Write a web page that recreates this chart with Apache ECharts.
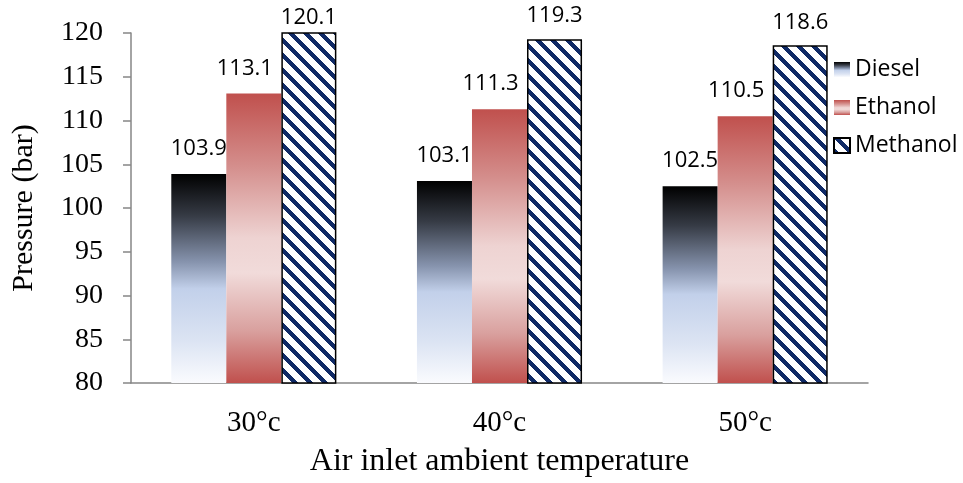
<!DOCTYPE html>
<html>
<head>
<meta charset="utf-8">
<script src="https://cdn.jsdelivr.net/npm/echarts@6/dist/echarts.min.js"></script>
<style>
    html, body { margin: 0; padding: 0; background: #fff; }
    #main { width: 963px; height: 483px; }
</style>
</head>
<body>
<div id="main"></div>
<script>
// data
var temps = ['30°c', '40°c', '50°c'];
var fuels = ['Diesel', 'Ethanol', 'Methanol'];
var diesel = [103.9, 103.1, 102.5];
var ethanol = [113.1, 111.3, 110.5];
var methanol = [120.1, 119.3, 118.6];

pressure_chart();

// diagonal "\" stripes for the methanol bars
function stripe_tile(){
    var s = 15, w = 6;
    var cv = document.createElement('canvas');
    cv.width = s; cv.height = s;
    var ctx = cv.getContext('2d');
    var img = ctx.createImageData(s, s);
    for (var y = 0; y < s; y++) {
        for (var x = 0; x < s; x++) {
            var d = ((x - y) % s + s) % s;
            var i = (y * s + x) * 4;
            var on = d < w;
            img.data[i] = on ? 16 : 255;
            img.data[i + 1] = on ? 42 : 255;
            img.data[i + 2] = on ? 102 : 255;
            img.data[i + 3] = 255;
        }
    }
    ctx.putImageData(img, 0, 0);
    return cv;
}

function pressure_chart(){
    var myChart = echarts.init(document.getElementById('main'));
    var serif = 'Liberation Serif';
    var sans = 'Open Sans';

    var dieselFill = new echarts.graphic.LinearGradient(0, 0, 0, 1, [
        {offset: 0, color: '#000000'},
        {offset: 0.2, color: '#363b45'},
        {offset: 0.42, color: '#8693ad'},
        {offset: 0.55, color: '#c2d0ea'},
        {offset: 0.8, color: '#dce4f3'},
        {offset: 1, color: '#fafbfe'}
    ]);
    var ethanolFill = new echarts.graphic.LinearGradient(0, 0, 0, 1, [
        {offset: 0, color: '#c0504d'},
        {offset: 0.25, color: '#d48e8c'},
        {offset: 0.5, color: '#eed3d2'},
        {offset: 0.62, color: '#f1dbda'},
        {offset: 0.82, color: '#d9a09e'},
        {offset: 1, color: '#c0504d'}
    ]);

    var lbl = {
        show: true,
        position: 'top',
        distance: 14,
        color: '#000',
        fontFamily: sans,
        fontSize: 22,
        formatter: function (p) { return p.value.toFixed(1); }
    };

    // the tallest label sits lower, pressed against the top edge
    var methanolData = methanol.map(function (v) {
        return v >= 120 ? {value: v, label: {distance: 4}} : v;
    });

    option = {
        animation: false,
        backgroundColor: '#fff',
        grid: {left: 131, right: 95, top: 33, bottom: 99},
        legend: {
            orient: 'vertical',
            left: 828,
            top: 53,
            icon: 'rect',
            itemWidth: 16,
            itemHeight: 15,
            itemGap: 15,
            data: fuels,
            textStyle: {fontFamily: sans, fontSize: 23, color: '#000'}
        },
        xAxis: {
            type: 'category',
            data: temps,
            name: 'Air inlet ambient temperature',
            nameLocation: 'middle',
            nameGap: 63,
            nameTextStyle: {fontFamily: serif, fontSize: 32, color: '#000'},
            axisLine: {lineStyle: {color: '#868686', width: 1.5}},
            axisTick: {length: 8, lineStyle: {color: '#868686', width: 1.5}},
            axisLabel: {margin: 26, fontFamily: serif, fontSize: 29, color: '#000'}
        },
        yAxis: {
            type: 'value',
            min: 80,
            max: 120,
            interval: 5,
            name: 'Pressure (bar)',
            nameLocation: 'middle',
            nameGap: 92,
            nameTextStyle: {fontFamily: serif, fontSize: 30, color: '#000'},
            axisLine: {show: true, lineStyle: {color: '#868686', width: 1.5}},
            axisTick: {show: true, length: 8, lineStyle: {color: '#868686', width: 1.5}},
            axisLabel: {margin: 28, fontFamily: serif, fontSize: 28, color: '#000'},
            splitLine: {show: false}
        },
        series: [
            {
                name: 'Diesel',
                type: 'bar',
                data: diesel,
                barWidth: '22.4%',
                barGap: '0%',
                itemStyle: {color: dieselFill},
                label: lbl
            },
            {
                name: 'Ethanol',
                type: 'bar',
                data: ethanol,
                barWidth: '22.4%',
                barGap: '0%',
                itemStyle: {color: ethanolFill},
                label: Object.assign({}, lbl, {offset: [-9, 0]})
            },
            {
                name: 'Methanol',
                type: 'bar',
                data: methanolData,
                barWidth: '22.4%',
                barGap: '0%',
                itemStyle: {
                    color: {image: stripe_tile(), repeat: 'repeat'},
                    borderColor: '#000',
                    borderWidth: 1.5
                },
                label: Object.assign({}, lbl, {distance: 12})
            }
        ]
    };
    myChart.setOption(option);
}
</script>
</body>
</html>
